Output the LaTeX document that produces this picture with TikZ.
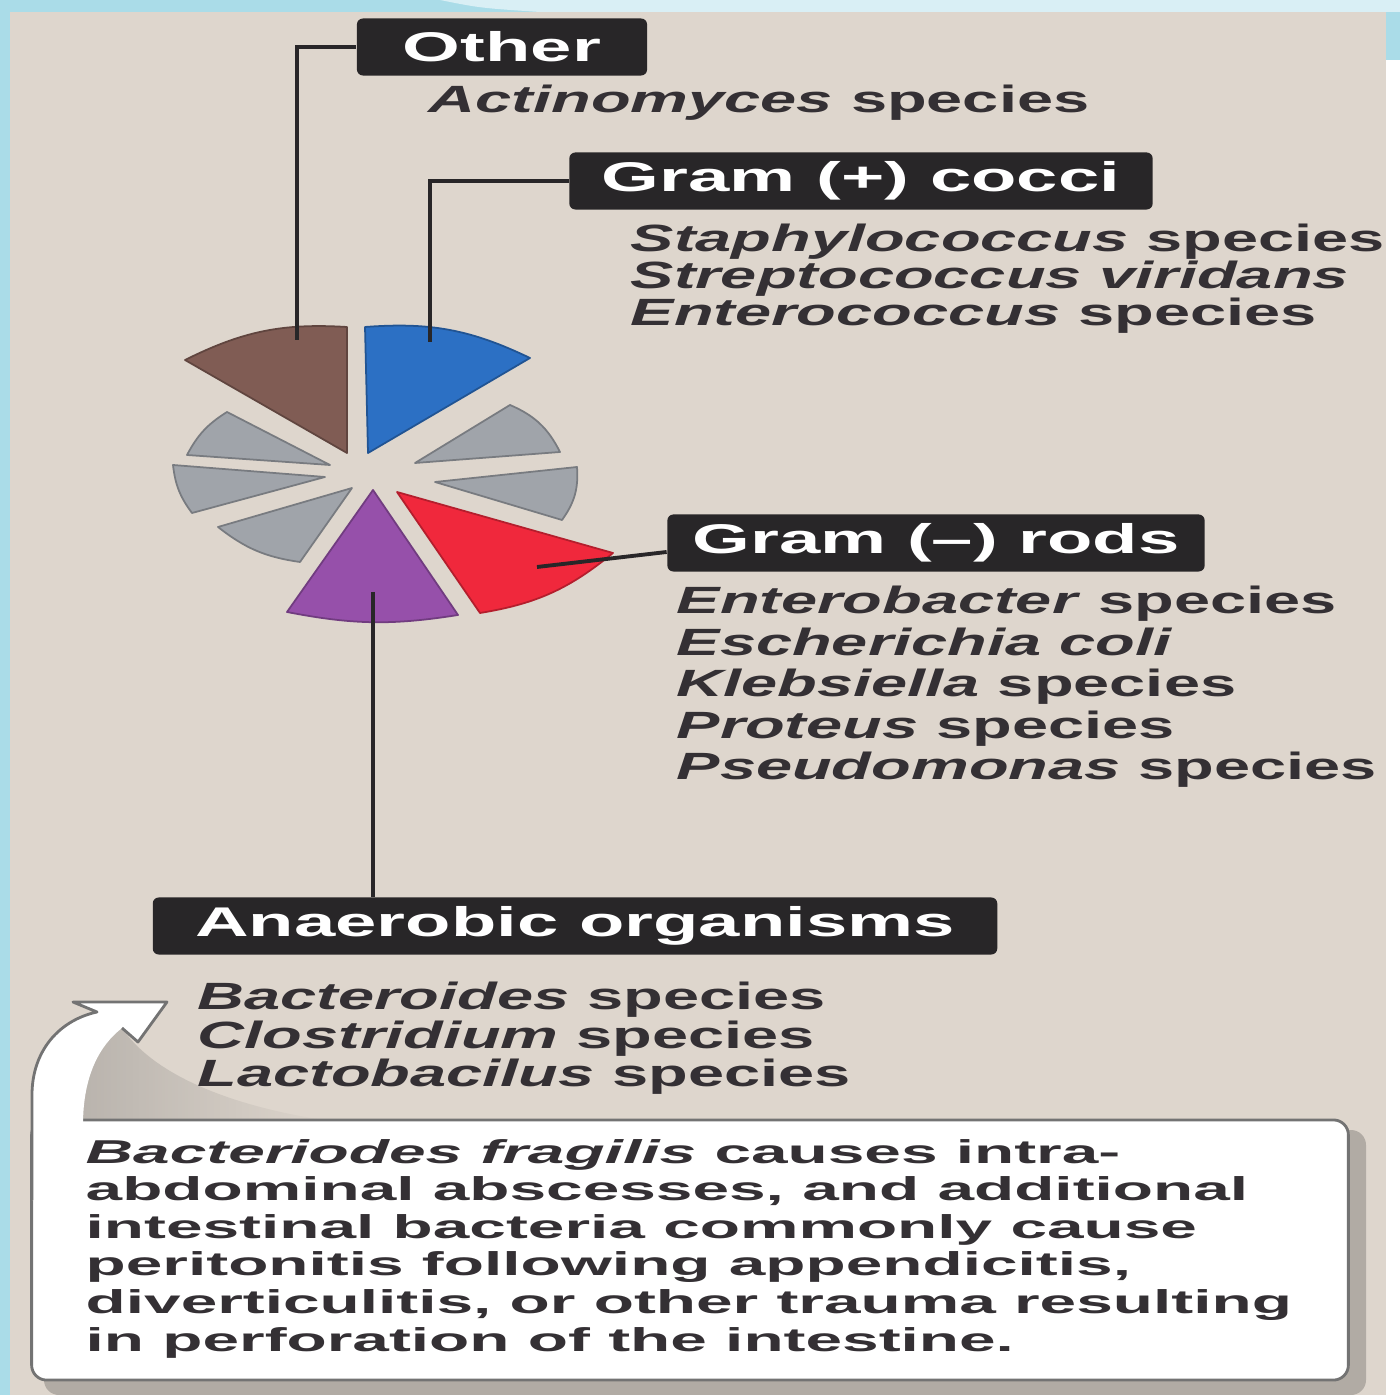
\documentclass[tikz,border=0pt]{standalone}
\usepackage{fontspec}
\setmainfont{Liberation Sans}
\usepackage{graphicx}
\usetikzlibrary{calc, fadings}
\definecolor{paper}{RGB}{222,214,205}
\definecolor{slideblue}{RGB}{170,220,232}
\definecolor{lblbg}{RGB}{40,38,40}
\definecolor{inkgray}{RGB}{52,48,52}
\definecolor{slbrown}{RGB}{128,92,84}
\definecolor{slblue}{RGB}{44,112,196}
\definecolor{slgray}{RGB}{160,164,170}
\definecolor{slred}{RGB}{240,40,60}
\definecolor{slpurple}{RGB}{150,80,170}
\newcommand{\lblw}[1]{\scalebox{1.79}[1]{#1}}
\newcommand{\spw}[1]{\scalebox{1.71}[1]{#1}}
\newcommand{\notew}[1]{\scalebox{1.99}[1]{#1}}

\begin{document}
\begin{tikzpicture}[x=0.01cm, y=-0.01cm,
      lbl/.style={fill=lblbg, text=white, rounded corners=0.06cm, inner sep=0pt,
                  minimum height=0.57cm, font=\fontsize{11.8}{13}\selectfont\bfseries},
      spec/.style={anchor=base west, inner sep=0pt, text=inkgray,
                   font=\fontsize{10.8}{12}\selectfont\bfseries},
      note/.style={anchor=base west, inner sep=0pt, text=inkgray,
                   font=\fontsize{9.4}{10}\selectfont\bfseries},
      lead/.style={draw=lblbg, line width=1.1pt},
      slice/.style={fill=#1, draw=#1!75!black, line width=0.5pt, line join=round}]
    \useasboundingbox (0,0) rectangle (1400,1395);
    % slide frame and paper
    \fill[slideblue] (0,0) rectangle (1400,1395);
    \fill[white] (1386,60) rectangle (1400,1395);
    \fill[white!55!slideblue] (440,0) .. controls (480,8) .. (540,12) -- (1400,12) -- (1400,0) -- cycle;
    \fill[paper] (10,12) rectangle (1386,1395);

    % pie
    \fill[slice=slbrown]  (347,453) -- (185,360) to[bend left=15] (347,327) -- cycle;
    \fill[slice=slblue]   (368,453) -- (365,327) to[bend left=15] (530,358) -- cycle;
    \fill[slice=slgray]   (415,463) -- (510,405) to[bend left=20] (560,452) -- cycle;
    \fill[slice=slgray]   (435,482) -- (577,467) to[bend left=20] (562,520) -- cycle;
    \fill[slice=slred]    (397,492) -- (613,553) to[bend left=15] (480,613) -- cycle;
    \fill[slice=slpurple] (373,490) -- (458,615) to[bend left=10] (287,612) -- cycle;
    \fill[slice=slgray]   (352,488) -- (300,562) to[bend left=15] (218,527) -- cycle;
    \fill[slice=slgray]   (325,477) -- (192,513) to[bend left=15] (173,465) -- cycle;
    \fill[slice=slgray]   (330,465) -- (187,455) to[bend left=15] (227,412) -- cycle;

    % group labels
    \node[lbl, minimum width=2.90cm] (other) at (502,47)  {\lblw{Other}};
    \node[lbl, minimum width=5.83cm] (gpos)  at (861,181) {\lblw{Gram (+) cocci}};
    \node[lbl, minimum width=5.37cm] (gneg)  at (936,543) {\lblw{Gram (--) rods}};
    \node[lbl, minimum width=8.44cm] (anaer) at (575,926) {\lblw{Anaerobic organisms}};

    % leaders
    \coordinate (pOth) at (297,340);
    \coordinate (pGp)  at (430,342);
    \coordinate (pGn)  at (537,567);
    \coordinate (pAn)  at (373,592);
    \draw[lead] (pOth) |- (other.west);
    \draw[lead] (pGp) |- (gpos.west);
    \draw[lead] (pGn) -- ($(gneg.west)+(0,9)$);
    \draw[lead] (pAn) -- (pAn |- anaer.north);

    % species
    \node[spec] (act) at (428,113) {\spw{\textit{Actinomyces} species}};
    \foreach \txt [count=\i] in {{\textit{Staphylococcus} species},
        {\textit{Streptococcus viridans}}, {\textit{Enterococcus} species}}
      \node[spec] (gp\i) at (630,{215+37*\i}) {\spw{\txt}};
    \foreach \txt [count=\i] in {{\textit{Enterobacter} species},
        {\textit{Escherichia coli}}, {\textit{Klebsiella} species},
        {\textit{Proteus} species}, {\textit{Pseudomonas} species}}
      \node[spec] (gn\i) at (676,{572.5+41.5*\i}) {\spw{\txt}};
    \foreach \txt [count=\i] in {{\textit{Bacteroides} species},
        {\textit{Clostridium} species}, {\textit{Lactobacilus} species}}
      \node[spec] (an\i) at (197,{972+38*\i}) {\spw{\txt}};

    % note box with curled arrow
    \fill[black!60, opacity=0.3, path fading=east]
      (83,1121) -- (83,1095) .. controls (85,1060) and (100,1040) .. (122,1028)
      .. controls (150,1070) and (220,1105) .. (330,1121) -- cycle;
    \fill[black, opacity=0.2, rounded corners=0.15cm] (44,1130) rectangle (1366,1395);
    \node[fill=white, draw=black!55, line width=0.8pt, rounded corners=0.15cm,
          minimum width=13.16cm, minimum height=2.60cm] (notebox) at (690,1250) {};
    \fill[white] (32,1200) -- (32,1095) .. controls (32,1050) and (60,1020) .. (97,1012)
      -- (73,1002) -- (167,1002) -- (138,1042) -- (122,1028)
      .. controls (100,1045) and (83,1075) .. (83,1125) -- (83,1200) -- cycle;
    \draw[black!55, line width=0.8pt, line join=round] (32,1200) -- (32,1095)
      .. controls (32,1050) and (60,1020) .. (97,1012)
      -- (73,1002) -- (167,1002) -- (138,1042) -- (122,1028);
    \foreach \txt [count=\i] in {{\textit{Bacteriodes fragilis} causes intra-},
        {abdominal abscesses, and additional}, {intestinal bacteria commonly cause},
        {peritonitis following appendicitis,}, {diverticulitis, or other trauma resulting},
        {in perforation of the intestine.}}
      \node[note] (nl\i) at (85,{1125.4+37.6*\i}) {\notew{\txt}};
\end{tikzpicture}
\end{document}
